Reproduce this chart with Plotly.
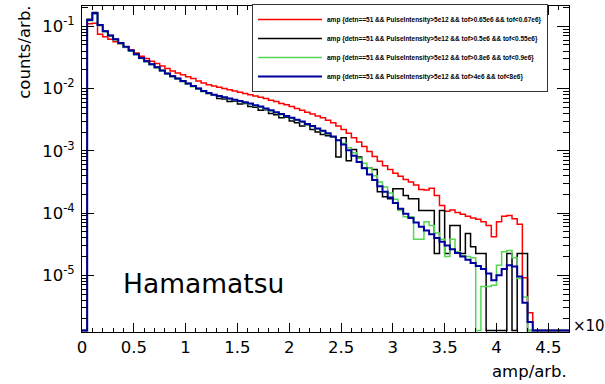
import plotly.graph_objects as go

# ---------------- data ----------------
BIN_WIDTH = 0.05          # amp/arb. (x10^3)
N_BINS = 94               # 0 .. 4.7

red_counts = [
    0, 1.10e-1, 1.12e-1, 7.41e-2, 6.76e-2, 6.17e-2, 5.62e-2, 5.25e-2, 4.68e-2, 4.17e-2,
    3.72e-2, 3.31e-2, 3.02e-2, 2.75e-2, 2.51e-2, 2.29e-2, 2.09e-2, 1.91e-2, 1.78e-2, 1.66e-2,
    1.55e-2, 1.45e-2, 1.32e-2, 1.23e-2, 1.15e-2, 1.10e-2, 1.05e-2, 1.00e-2, 9.55e-3, 9.12e-3,
    8.71e-3, 8.32e-3, 7.94e-3, 7.59e-3, 7.24e-3, 6.92e-3, 6.46e-3, 6.17e-3, 5.75e-3, 5.50e-3,
    5.13e-3, 4.79e-3, 4.47e-3, 4.17e-3, 3.89e-3, 3.63e-3, 3.39e-3, 3.09e-3, 2.82e-3, 2.51e-3,
    2.19e-3, 1.91e-3, 1.62e-3, 1.38e-3, 1.17e-3, 9.77e-4, 8.13e-4, 6.76e-4, 5.75e-4, 5.01e-4,
    4.37e-4, 3.89e-4, 3.47e-4, 3.16e-4, 2.82e-4, 2.40e-4, 2.34e-4, 2.51e-4, 1.91e-4, 1.32e-4,
    1.07e-4, 1.12e-4, 1.02e-4, 9.55e-5, 8.91e-5, 8.32e-5, 7.94e-5, 7.24e-5, 6.31e-5, 4.17e-5,
    7.24e-5, 8.91e-5, 9.12e-5, 8.13e-5, 6.61e-5, 9.12e-6, 2.51e-6, 0, 0, 0,
    0, 0, 0, 0,
]

black_counts = [
    0, 1.29e-1, 1.66e-1, 1.05e-1, 8.32e-2, 7.08e-2, 6.17e-2, 5.37e-2, 4.68e-2, 4.07e-2,
    3.55e-2, 3.09e-2, 2.75e-2, 2.45e-2, 2.19e-2, 1.95e-2, 1.74e-2, 1.58e-2, 1.45e-2, 1.32e-2,
    1.20e-2, 1.10e-2, 1.00e-2, 9.12e-3, 8.32e-3, 7.76e-3, 6.92e-3, 6.76e-3, 6.17e-3, 6.31e-3,
    5.62e-3, 5.75e-3, 5.13e-3, 5.01e-3, 4.47e-3, 4.57e-3, 3.98e-3, 3.80e-3, 3.39e-3, 3.47e-3,
    3.02e-3, 2.82e-3, 2.51e-3, 2.63e-3, 2.19e-3, 2.00e-3, 1.82e-3, 1.74e-3, 1.66e-3, 7.94e-4,
    1.62e-3, 6.92e-4, 1.05e-3, 7.94e-4, 5.25e-4, 5.25e-4, 5.01e-4, 2.19e-4, 1.82e-4, 1.70e-4,
    2.45e-4, 2.45e-4, 1.91e-4, 1.70e-4, 1.70e-4, 1.10e-4, 1.10e-4, 1.10e-4, 2.24e-5, 1.10e-4,
    2.24e-5, 6.31e-5, 6.31e-5, 2.24e-5, 4.68e-5, 2.88e-5, 2.24e-5, 2.24e-5, 0, 0,
    0, 0, 2.24e-5, 0, 2.24e-5, 2.24e-5, 0, 0, 0, 0,
    0, 0, 0, 0,
]

green_counts = [
    0, 1.23e-1, 1.58e-1, 1.02e-1, 8.13e-2, 6.92e-2, 6.03e-2, 5.25e-2, 4.57e-2, 3.98e-2,
    3.47e-2, 3.02e-2, 2.69e-2, 2.40e-2, 2.14e-2, 1.91e-2, 1.70e-2, 1.55e-2, 1.41e-2, 1.29e-2,
    1.17e-2, 1.07e-2, 9.77e-3, 8.91e-3, 8.32e-3, 7.76e-3, 7.41e-3, 7.08e-3, 6.76e-3, 6.46e-3,
    6.17e-3, 5.89e-3, 5.62e-3, 5.25e-3, 5.01e-3, 4.68e-3, 4.37e-3, 4.07e-3, 3.80e-3, 3.55e-3,
    3.31e-3, 3.09e-3, 2.88e-3, 2.63e-3, 2.45e-3, 2.24e-3, 2.04e-3, 1.86e-3, 1.66e-3, 1.48e-3,
    1.32e-3, 1.12e-3, 9.33e-4, 7.59e-4, 6.31e-4, 5.25e-4, 3.98e-4, 3.16e-4, 2.63e-4, 2.09e-4,
    1.66e-4, 1.10e-4, 8.71e-5, 8.71e-5, 3.80e-5, 3.80e-5, 7.24e-5, 6.31e-5, 4.79e-5, 3.80e-5,
    2.00e-5, 3.80e-5, 2.40e-5, 2.09e-5, 2.00e-5, 1.91e-5, 0, 6.61e-6, 6.61e-6, 6.92e-6,
    1.45e-5, 2.40e-5, 2.51e-5, 1.91e-5, 8.91e-6, 4.47e-6, 0, 0, 0, 0,
    0, 0, 0, 0,
]

blue_counts = [
    0, 1.26e-1, 1.62e-1, 1.05e-1, 8.32e-2, 7.08e-2, 6.17e-2, 5.37e-2, 4.68e-2, 4.07e-2,
    3.55e-2, 3.09e-2, 2.75e-2, 2.45e-2, 2.19e-2, 1.95e-2, 1.74e-2, 1.58e-2, 1.45e-2, 1.32e-2,
    1.20e-2, 1.10e-2, 1.00e-2, 9.12e-3, 8.51e-3, 7.94e-3, 7.59e-3, 7.24e-3, 6.92e-3, 6.61e-3,
    6.31e-3, 6.03e-3, 5.75e-3, 5.37e-3, 5.13e-3, 4.79e-3, 4.47e-3, 4.17e-3, 3.89e-3, 3.63e-3,
    3.39e-3, 3.16e-3, 2.95e-3, 2.69e-3, 2.51e-3, 2.29e-3, 2.09e-3, 1.91e-3, 1.70e-3, 1.48e-3,
    1.26e-3, 1.02e-3, 8.32e-4, 6.61e-4, 5.25e-4, 4.17e-4, 3.39e-4, 2.69e-4, 2.19e-4, 1.78e-4,
    1.45e-4, 1.17e-4, 9.77e-5, 8.32e-5, 7.08e-5, 6.03e-5, 5.25e-5, 4.57e-5, 3.98e-5, 3.47e-5,
    3.02e-5, 2.63e-5, 2.29e-5, 2.00e-5, 1.78e-5, 1.58e-5, 1.41e-5, 1.26e-5, 1.07e-5, 8.32e-6,
    1.00e-5, 1.26e-5, 1.45e-5, 1.38e-5, 9.55e-6, 3.63e-6, 1.78e-6, 0, 0, 0,
    0, 0, 0, 0,
]

series_names = [
    "amp {detn==51 && PulseIntensity>5e12 && tof>0.65e6 && tof<0.67e6}",
    "amp {detn==51 && PulseIntensity>5e12 && tof>0.5e6 && tof<0.55e6}",
    "amp {detn==51 && PulseIntensity>5e12 && tof>0.8e6 && tof<0.9e6}",
    "amp {detn==51 && PulseIntensity>5e12 && tof>4e6 && tof<8e6}",
]
series_colors = ["#ff0000", "#000000", "#55d655", "#00009c"]
series_widths = [1.5, 1.5, 1.5, 2.0]

x_tick_vals = [0, 0.5, 1, 1.5, 2, 2.5, 3, 3.5, 4, 4.5]
x_tick_text = ["0", "0.5", "1", "1.5", "2", "2.5", "3", "3.5", "4", "4.5"]
y_tick_vals = [1e-5, 1e-4, 1e-3, 1e-2, 1e-1]
y_tick_text = ["10<sup>-5</sup>", "10<sup>-4</sup>", "10<sup>-3</sup>",
               "10<sup>-2</sup>", "10<sup>-1</sup>"]

# ---------------- figure ----------------
X_MAX = 4.7
Y_LOG_MIN, Y_LOG_MAX = -5.91, -0.675
ZERO_FLOOR = 1.30e-6   # empty bins sit on the bottom of the frame (log axis)

edges = [round(i * BIN_WIDTH, 4) for i in range(N_BINS + 1)]

fig = go.Figure()
for name, vals, col, w in zip(series_names,
                              [red_counts, black_counts, green_counts, blue_counts],
                              series_colors, series_widths):
    yv = [v if v > 0 else ZERO_FLOOR for v in vals]
    yv = yv + [yv[-1]]
    fig.add_trace(go.Scatter(
        x=edges, y=yv, mode="lines", name="<b>" + name + "</b>",
        line=dict(color=col, width=w, shape="hv"),
        legendgroup=name, hoverinfo="skip",
    ))

FONT = "DejaVu Sans"
minor_y = [k * 10.0 ** n for n in range(-6, 0) for k in range(2, 10)]

fig.update_layout(
    width=605, height=384,
    margin=dict(l=82, r=36, t=4, b=52),
    paper_bgcolor="white", plot_bgcolor="white",
    font=dict(family=FONT, size=16.5, color="black"),
    showlegend=True,
    legend=dict(
        x=(252 - 82) / 487, y=1.0 + 2 / 328, xanchor="left", yanchor="top",
        bgcolor="white", bordercolor="#333333", borderwidth=1,
        font=dict(family="Liberation Sans", size=6.5, color="black"),
        tracegroupgap=0, itemwidth=64,
        entrywidth=301, entrywidthmode="pixels",
    ),
    xaxis=dict(
        range=[0, X_MAX], showgrid=False, zeroline=False,
        showline=True, linecolor="black", linewidth=1, mirror="allticks",
        ticks="inside", ticklen=9, tickcolor="black", tickwidth=1,
        tickmode="array", tickvals=x_tick_vals, ticktext=x_tick_text,
        ticklabelstandoff=0,
        minor=dict(ticks="inside", ticklen=4, dtick=0.1, tick0=0,
                   tickcolor="black", showgrid=False),
        tickfont=dict(family=FONT, size=16.5),
    ),
    yaxis=dict(
        type="log", range=[Y_LOG_MIN, Y_LOG_MAX], showgrid=False, zeroline=False,
        showline=True, linecolor="black", linewidth=1, mirror="allticks",
        ticks="inside", ticklen=12, tickcolor="black", tickwidth=1,
        tickmode="array", tickvals=y_tick_vals, ticktext=y_tick_text,
        ticklabelstandoff=3,
        minor=dict(ticks="inside", ticklen=6, tickmode="array", tickvals=minor_y,
                   tickcolor="black", showgrid=False),
        tickfont=dict(family=FONT, size=16.5),
    ),
    annotations=[
        dict(text="Hamamatsu", xref="x", yref="y", x=0.374, y=-5.13,
             xanchor="left", yanchor="middle", showarrow=False,
             font=dict(family=FONT, size=26.5, color="black")),
        dict(text="amp/arb.", xref="paper", yref="paper", x=1.0, y=(332 - 372) / 328,
             xanchor="right", yanchor="middle", showarrow=False,
             font=dict(family=FONT, size=16.5)),
        dict(text="counts/arb.", xref="paper", yref="paper", x=(25 - 82) / 487,
             y=(332 - 51) / 328, xanchor="center", yanchor="middle",
             textangle=-90, showarrow=False, font=dict(family=FONT, size=16.5)),
        dict(text="×10", xref="paper", yref="paper", x=(571 - 82) / 487,
             y=(332 - 326) / 328, xanchor="left", yanchor="middle",
             showarrow=False, font=dict(family=FONT, size=15)),
    ],
)

fig.write_html("out.html")
